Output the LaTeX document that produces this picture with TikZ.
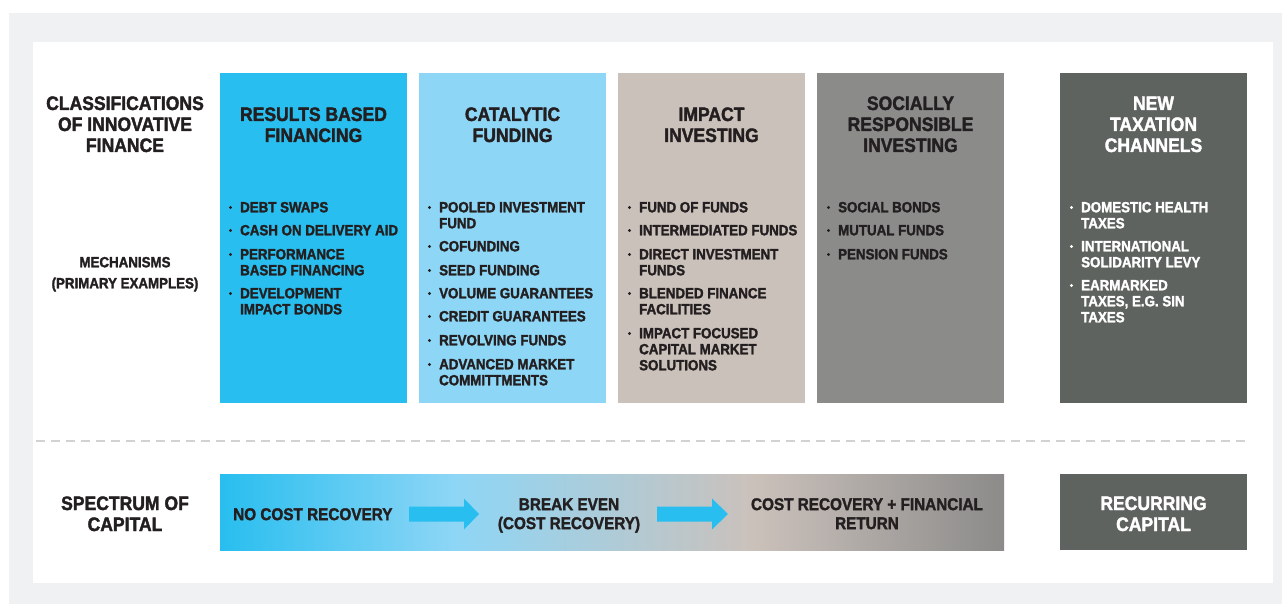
\documentclass[tikz,border=0pt]{standalone}
\usepackage{fontspec}
\setmainfont{Liberation Sans}[FakeStretch=0.9, BoldFeatures={FakeBold=1.8}]
\definecolor{cA}{HTML}{28BEEF}
\definecolor{cB}{HTML}{8ED6F6}
\definecolor{cC}{HTML}{CBC1BB}
\definecolor{cD}{HTML}{8B8B8A}
\definecolor{cE}{HTML}{5F635F}
\definecolor{ink}{HTML}{231F20}
\definecolor{bgg}{HTML}{F0F1F3}
\definecolor{dashc}{HTML}{D2D2D2}
\pgfdeclarehorizontalshading{specshade}{100bp}{color(0bp)=(cA); color(25bp)=(cA); color(40bp)=(cB); color(59bp)=(cC); color(75bp)=(cD); color(100bp)=(cD)}
\tikzset{
  colbox/.style={draw=none, inner sep=0pt, minimum width=187pt, minimum height=330pt, anchor=north west},
  head/.style={font=\fontsize{19.5}{21}\selectfont\bfseries, align=center, anchor=base, inner sep=0pt, text=ink},
  midlab/.style={font=\fontsize{14.8}{21}\selectfont\bfseries, align=center, anchor=base, inner sep=0pt, text=ink},
  itm/.style={font=\fontsize{14.8}{16}\selectfont\bfseries, align=left, anchor=base west, inner sep=0pt},
  spec/.style={font=\fontsize{17}{19}\selectfont\bfseries, align=center, anchor=base, inner sep=0pt, text=ink},
  wht/.style={text=white},
  sepline/.style={draw=dashc, line width=2pt, dash pattern=on 9pt off 6pt},
  blockarrow/.style={fill=cA, draw=none}
}
% #1 colour, #2 x of text, #3 y of first line centre, #4 name, #5 number of lines, #6 text
% (the base anchor of a multi-line node is the baseline of its last line)
\newcommand\mitem[6]{%
  \fill[#1] (#2-9.5,#3+0.5) circle (1.6pt);
  \node[itm, text=#1] (#4) at (#2,#3+5.3+16*#5-16) {#6};}
\begin{document}
\begin{tikzpicture}[x=1pt,y=-1pt]
\useasboundingbox (0,0) rectangle (1282,604);
\fill[bgg] (9,13) rectangle (1282,604);
\fill[white] (33,42) rectangle (1273,583);
% columns
\node[colbox, fill=cA] (rbf) at (220,73) {};
\node[colbox, fill=cB] (cat) at (419,73) {};
\node[colbox, fill=cC] (imp) at (618,73) {};
\node[colbox, fill=cD] (sri) at (817,73) {};
\node[colbox, fill=cE] (tax) at (1060,73) {};
% headers (base = last line baseline)
\node[head] (hcls) at (125,152) {CLASSIFICATIONS\\OF INNOVATIVE\\FINANCE};
\node[head] (hrbf) at (313.5,142) {RESULTS BASED\\FINANCING};
\node[head] (hcat) at (512.5,142) {CATALYTIC\\FUNDING};
\node[head] (himp) at (711.5,142) {IMPACT\\INVESTING};
\node[head] (hsri) at (910.5,152) {SOCIALLY\\RESPONSIBLE\\INVESTING};
\node[head, wht] (htax) at (1153.5,152) {NEW\\TAXATION\\CHANNELS};
\node[midlab] (mech) at (125,288.3) {MECHANISMS\\(PRIMARY EXAMPLES)};
% items RBF
\mitem{ink}{240}{207}{r1}{1}{DEBT SWAPS}
\mitem{ink}{240}{230}{r2}{1}{CASH ON DELIVERY AID}
\mitem{ink}{240}{254}{r3}{2}{PERFORMANCE\\BASED FINANCING}
\mitem{ink}{240}{293}{r4}{2}{DEVELOPMENT\\IMPACT BONDS}
% items catalytic
\mitem{ink}{439}{207}{c1}{2}{POOLED INVESTMENT\\FUND}
\mitem{ink}{439}{246}{c2}{1}{COFUNDING}
\mitem{ink}{439}{270}{c3}{1}{SEED FUNDING}
\mitem{ink}{439}{293}{c4}{1}{VOLUME GUARANTEES}
\mitem{ink}{439}{316}{c5}{1}{CREDIT GUARANTEES}
\mitem{ink}{439}{340}{c6}{1}{REVOLVING FUNDS}
\mitem{ink}{439}{364}{c7}{2}{ADVANCED MARKET\\COMMITTMENTS}
% items impact
\mitem{ink}{639}{207}{i1}{1}{FUND OF FUNDS}
\mitem{ink}{639}{230}{i2}{1}{INTERMEDIATED FUNDS}
\mitem{ink}{639}{254}{i3}{2}{DIRECT INVESTMENT\\FUNDS}
\mitem{ink}{639}{293}{i4}{2}{BLENDED FINANCE\\FACILITIES}
\mitem{ink}{639}{333}{i5}{3}{IMPACT FOCUSED\\CAPITAL MARKET\\SOLUTIONS}
% items SRI
\mitem{ink}{838}{207}{s1}{1}{SOCIAL BONDS}
\mitem{ink}{838}{230}{s2}{1}{MUTUAL FUNDS}
\mitem{ink}{838}{254}{s3}{1}{PENSION FUNDS}
% items tax
\mitem{white}{1081}{207}{t1}{2}{DOMESTIC HEALTH\\TAXES}
\mitem{white}{1081}{246}{t2}{2}{INTERNATIONAL\\SOLIDARITY LEVY}
\mitem{white}{1081}{285}{t3}{3}{EARMARKED\\TAXES, E.G. SIN\\TAXES}
% separator
\coordinate (sepL) at (36,441);
\coordinate (sepR) at (1250,441);
\draw[sepline] (sepL) -- (sepR);
% spectrum
\node[head] (hspec) at (125,531) {SPECTRUM OF\\CAPITAL};
\shade[shading=specshade] (220,474) rectangle (1004,550);
\node[colbox, fill=cE, minimum height=76pt] (rec) at (1060,474) {};
\node[head, wht] (hrec) at (1153.5,531) {RECURRING\\CAPITAL};
\node[spec, anchor=base west] (nocost) at (233,520.1) {NO COST RECOVERY};
\node[spec] (breakeven) at (569,529.1) {BREAK EVEN\\(COST RECOVERY)};
\node[spec] (costrec) at (867,529.1) {COST RECOVERY + FINANCIAL\\RETURN};
% block arrows
\coordinate (a1) at (409,514);
\coordinate (a2) at (657,514);
\fill[blockarrow] (a1) ++(0,-7.5) -- ++(55,0) -- ++(0,-8) -- ++(15,15.5) -- ++(-15,15.5) -- ++(0,-8) -- ++(-55,0) -- cycle;
\fill[blockarrow] (a2) ++(0,-7.5) -- ++(55,0) -- ++(0,-8) -- ++(16,15.5) -- ++(-16,15.5) -- ++(0,-8) -- ++(-55,0) -- cycle;
\end{tikzpicture}
\end{document}
